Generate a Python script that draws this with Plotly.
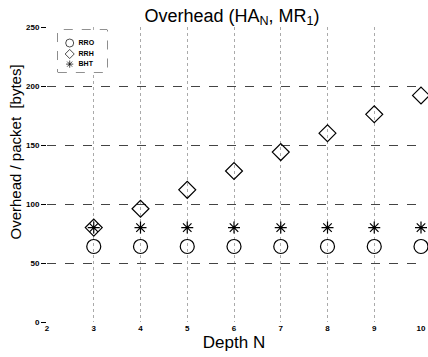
import plotly.graph_objects as go

depth = [3, 4, 5, 6, 7, 8, 9, 10]
rro = [64, 64, 64, 64, 64, 64, 64, 64]
rrh = [80, 96, 112, 128, 144, 160, 176, 192]
bht = [80, 80, 80, 80, 80, 80, 80, 80]
x_ticks = [2, 3, 4, 5, 6, 7, 8, 9, 10]
y_ticks = [0, 50, 100, 150, 200, 250]
names = ["RRO", "RRH", "BHT"]
series = [rro, rrh, bht]
symbols = ["circle-open", "diamond-open", "asterisk-open"]
sizes = [14, 13, 10]
leg_sizes = [8, 7, 6]
leg_rows = [0.69, 0.43, 0.19]

fig = go.Figure()
for nm, ys, sym, sz in zip(names, series, symbols, sizes):
    fig.add_trace(go.Scatter(x=depth, y=ys, mode="markers", name=nm, showlegend=False,
                             cliponaxis=False,
                             marker=dict(symbol=sym, size=sz, color="black", line=dict(width=1.2, color="black"))))
# compact legend drawn in a small overlay axis
fig.add_trace(go.Scatter(x=[0.24] * 3, y=leg_rows, mode="markers",
                         xaxis="x2", yaxis="y2", showlegend=False, hoverinfo="skip",
                         marker=dict(symbol=symbols, size=leg_sizes, color="black",
                                     line=dict(width=1, color="black"))))
fig.add_trace(go.Scatter(x=[0.42] * 3, y=leg_rows, mode="text", text=names,
                         textposition="middle right", textfont=dict(size=7, weight="bold"),
                         xaxis="x2", yaxis="y2", showlegend=False, hoverinfo="skip"))

fig.update_layout(
    width=428, height=357,
    margin=dict(l=47, r=2, t=27, b=35),
    paper_bgcolor="white", plot_bgcolor="white",
    font=dict(family="Liberation Sans, Arial, sans-serif", color="black"),
    title=dict(text="Overhead (HA<sub>N</sub>, MR<sub>1</sub>)", x=0.542, xanchor="center",
               y=0.975, yanchor="top", font=dict(size=18)),
    xaxis=dict(range=[2, 10], tickvals=x_ticks, showgrid=True, gridcolor="#aaa", griddash="dot",
               gridwidth=1, zeroline=False, showline=False, ticks="", ticklabeloverflow="allow",
               tickfont=dict(size=8, weight="bold"),
               title=dict(text="Depth N", font=dict(size=17), standoff=2)),
    yaxis=dict(range=[0, 250], tickvals=y_ticks, showgrid=True, gridcolor="#444", griddash="dash",
               gridwidth=1, zeroline=False, showline=False, ticks="outside", ticklen=5, tickcolor="black",
               tickfont=dict(size=8, weight="bold")),
    xaxis2=dict(domain=[0.029, 0.161], range=[0, 1], visible=False, anchor="y2"),
    yaxis2=dict(domain=[0.847, 0.99], range=[0, 1], visible=False, anchor="x2"),
    shapes=[dict(type="rect", xref="paper", yref="paper", x0=0.029, x1=0.161, y0=0.847, y1=0.99,
                 line=dict(color="#333", width=1, dash="dash"), fillcolor="white", layer="between")],
    annotations=[dict(text="Overhead / packet  [bytes]", xref="paper", yref="paper",
                      x=-0.0844, y=0.576, textangle=-90, showarrow=False,
                      xanchor="center", yanchor="middle", font=dict(size=15))],
    showlegend=False,
)
fig.write_html("out.html")
